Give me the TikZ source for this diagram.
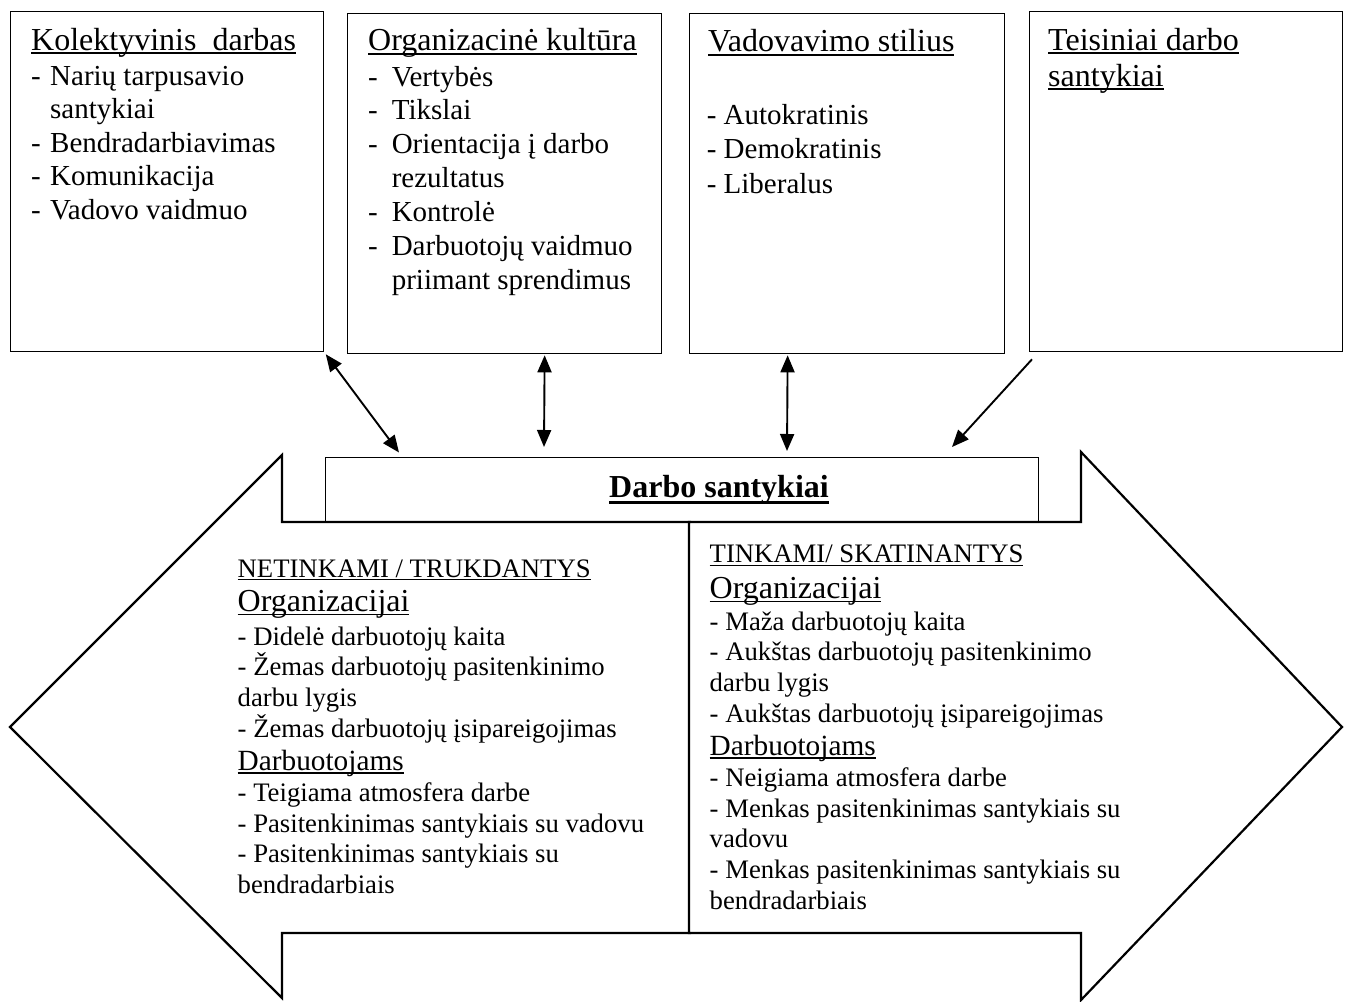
\documentclass[tikz,border=0pt]{standalone}
\usepackage{fontspec}
\setmainfont{Liberation Serif}
\usetikzlibrary{arrows.meta,calc}
\newcommand\ulx[2][0.05em]{\setbox0=\hbox{#2}\rlap{\rule[-0.12em]{\wd0}{#1}}\box0}
\newcommand\ulbold[1]{\setbox0=\hbox{#1}\rlap{\rule[-0.23em]{\wd0}{0.11em}}\box0}
\newcommand\dsh[1]{\makebox[#1][l]{-}}
\begin{document}
\begin{tikzpicture}[x=1pt,y=-1pt,
  bxs/.style={draw, line width=1.3pt, inner sep=0pt, anchor=north west},
  halfarrow/.style={draw, line width=2.2pt, fill=white, line join=miter},
  txb/.style={inner sep=0pt, anchor=base west},
  tx32/.style={txb, font=\fontsize{32}{36}\selectfont},
  tx29/.style={txb, font=\fontsize{29}{34}\selectfont},
  tx29b/.style={txb, font=\fontsize{29.3}{34}\selectfont},
  tx27/.style={txb, font=\fontsize{26.7}{31}\selectfont},
  arrboth/.style={line width=1.9pt, {Triangle[length=17pt,width=14pt]}-{Triangle[length=17pt,width=14pt]}},
  arrone/.style={line width=1.9pt, -{Triangle[length=17pt,width=14pt]}}
]
\useasboundingbox (0,0) rectangle (1346,1001);

% large double arrow (two halves)
\draw[halfarrow] (10,727) -- (282,455) -- (282,522) -- (690,522) -- (690,933) -- (282,933) -- (282,998) -- cycle;
\draw[halfarrow] (689,522) -- (1081,522) -- (1081,452) -- (1342,727) -- (1081,1000) -- (1081,933) -- (689,933) -- cycle;

% top boxes
\node[bxs, minimum width=313pt, minimum height=340pt] (kol) at (10,11) {};
\node[bxs, minimum width=314pt, minimum height=340pt] (org) at (347,13) {};
\node[bxs, minimum width=315pt, minimum height=340pt] (vad) at (689,13) {};
\node[bxs, minimum width=313pt, minimum height=340pt] (teis) at (1029,11) {};

% central box
\node[bxs, minimum width=713pt, minimum height=65pt] (ds) at (325,457) {};
\node[txb, font=\fontsize{32}{36}\selectfont\bfseries] (dst) at (609,497) {\ulbold{Darbo santykiai}};

% connectors
\draw[arrboth] ($(kol.south east)+(1.5,2)$) -- ($(ds.north west)+(74,-4.5)$);
\draw[arrboth] ($(org.south)+(40,1)$) -- ($(ds.north west)+(219,-10)$);
\draw[arrboth] ($(vad.south)+(-59.5,1)$) -- ($(ds.north west)+(462,-6)$);
\draw[arrone] ($(teis.south west)+(3,7)$) -- ($(ds.north west)+(627,-10)$);

% box 1 text
\node[tx32] (k0) at (31,50) {\ulx{Kolektyvinis\ \ darbas}};
\node[tx29] (k1) at (31,85) {\dsh{19pt}Narių tarpusavio};
\node[tx29] (k2) at (50,118.5) {santykiai};
\node[tx29] (k3) at (31,152) {\dsh{19pt}Bendradarbiavimas};
\node[tx29] (k4) at (31,185.5) {\dsh{19pt}Komunikacija};
\node[tx29] (k5) at (31,219) {\dsh{19pt}Vadovo vaidmuo};

% box 2 text
\node[tx32] (o0) at (368,50.7) {\ulx{Organizacinė kultūra}};
\node[tx29] (o1) at (368,86) {\dsh{23.6pt}Vertybės};
\node[tx29] (o2) at (368,119.5) {\dsh{23.6pt}Tikslai};
\node[tx29] (o3) at (368,153.5) {\dsh{23.6pt}Orientacija į darbo};
\node[tx29] (o4) at (391.6,187) {rezultatus};
\node[tx29] (o5) at (368,221) {\dsh{23.6pt}Kontrolė};
\node[tx29] (o6) at (368,255) {\dsh{23.6pt}Darbuotojų vaidmuo};
\node[tx29] (o7) at (391.6,289) {priimant sprendimus};

% box 3 text
\node[tx32] (v0) at (708,51.7) {\ulx{Vadovavimo stilius}};
\node[tx29] (v1) at (706.6,124) {- Autokratinis};
\node[tx29] (v2) at (706.6,158) {- Demokratinis};
\node[tx29] (v3) at (706.6,193) {- Liberalus};

% box 4 text
\node[tx32] (t0) at (1048,50) {\ulx{Teisiniai darbo}};
\node[tx32] (t1) at (1048,86) {\ulx{santykiai}};

% bottom left text
\node[tx27] (l0) at (237.5,577) {\ulx{NETINKAMI / TRUKDANTYS}};
\node[tx32] (l1) at (237.5,611.5) {\ulx{Organizacijai}};
\node[tx27] (l2) at (237.5,645) {- Didelė darbuotojų kaita};
\node[tx27] (l3) at (237.5,675.5) {- Žemas darbuotojų pasitenkinimo};
\node[tx27] (l4) at (237.5,706) {darbu lygis};
\node[tx27] (l5) at (237.5,737) {- Žemas darbuotojų įsipareigojimas};
\node[tx29b] (l6) at (237.5,770) {\ulx{Darbuotojams}};
\node[tx27] (l7) at (237.5,801.5) {- Teigiama atmosfera darbe};
\node[tx27] (l8) at (237.5,832) {- Pasitenkinimas santykiais su vadovu};
\node[tx27] (l9) at (237.5,862) {- Pasitenkinimas santykiais su};
\node[tx27] (l10) at (237.5,893) {bendradarbiais};

% bottom right text
\node[tx27] (r0) at (709.5,562.7) {\ulx{TINKAMI/ SKATINANTYS}};
\node[tx32] (r1) at (709.5,598.3) {\ulx{Organizacijai}};
\node[tx27] (r2) at (709.5,630) {- Maža darbuotojų kaita};
\node[tx27] (r3) at (709.5,660.5) {- Aukštas darbuotojų pasitenkinimo};
\node[tx27] (r4) at (709.5,691) {darbu lygis};
\node[tx27] (r5) at (709.5,722) {- Aukštas darbuotojų įsipareigojimas};
\node[tx29b] (r6) at (709.5,755) {\ulx{Darbuotojams}};
\node[tx27] (r7) at (709.5,786) {- Neigiama atmosfera darbe};
\node[tx27] (r8) at (709.5,817) {- Menkas pasitenkinimas santykiais su};
\node[tx27] (r9) at (709.5,847.7) {vadovu};
\node[tx27] (r10) at (709.5,878.3) {- Menkas pasitenkinimas santykiais su};
\node[tx27] (r11) at (709.5,909.3) {bendradarbiais};
\end{tikzpicture}
\end{document}
